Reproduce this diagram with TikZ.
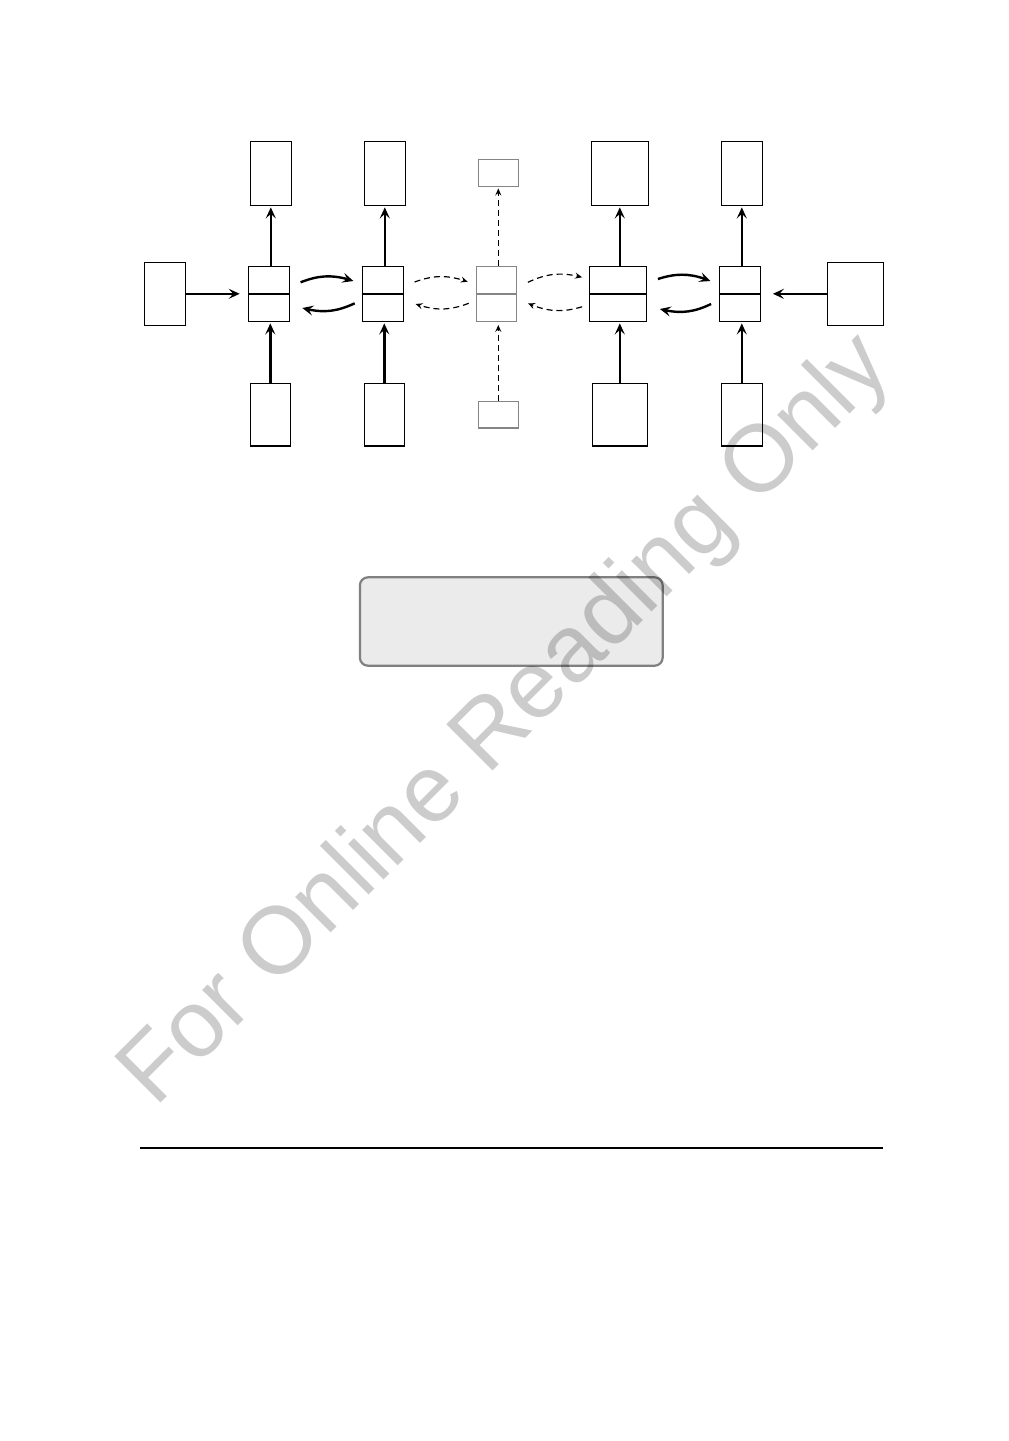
\documentclass[tikz,border=0pt]{standalone}
\usepackage{fontspec}
\newfontfamily\wmfont{Liberation Sans}
\usetikzlibrary{arrows.meta,bending}
\begin{document}
\begin{tikzpicture}[x=1pt,y=-1pt,
  box/.style={draw=black,line width=1.2pt,fill=white,inner sep=0pt,rectangle},
  gbox/.style={draw=black!48,line width=1.2pt,fill=white,inner sep=0pt,rectangle},
  divider/.style={line width=2pt,draw=black},
  gdivider/.style={line width=2pt,draw=black!48},
  bigarrow/.style={line width=2.4pt,-{Stealth[length=11pt,width=10pt,inset=4.5pt]}},
  dasharrow/.style={line width=1.2pt,dash pattern=on 6pt off 4pt,-{Stealth[length=7pt,width=6pt,inset=2.5pt]}},
  sumbox/.style={draw=black!50,line width=2.2pt,fill=black!8,rounded corners=8pt,inner sep=0pt,rectangle},
]
\useasboundingbox (0,0) rectangle (1009,1441);
\fill[white] (0,0) rectangle (1009,1441);

% input boxes
\node[box,minimum width=41pt,minimum height=63pt] (inL) at (164.8,293.8) {};
\node[box,minimum width=56pt,minimum height=63pt] (inR) at (855.3,293.8) {};

% cells
\node[box,minimum width=41pt,minimum height=55pt] (c1) at (268.8,293.8) {};
\node[box,minimum width=41pt,minimum height=55pt] (c2) at (382.8,293.8) {};
\node[gbox,minimum width=40pt,minimum height=55pt] (c3) at (496.3,293.8) {};
\node[box,minimum width=57pt,minimum height=55pt] (c4) at (617.8,293.8) {};
\node[box,minimum width=41pt,minimum height=55pt] (c5) at (739.8,293.8) {};
\draw[divider] (c1.west) -- (c1.east);
\draw[divider] (c2.west) -- (c2.east);
\draw[gdivider] (c3.west) -- (c3.east);
\draw[divider] (c4.west) -- (c4.east);
\draw[divider] (c5.west) -- (c5.east);

% top boxes
\node[box,minimum width=41pt,minimum height=64pt] (t1) at (270.8,173.3) {};
\node[box,minimum width=41pt,minimum height=64pt] (t2) at (384.8,173.3) {};
\node[gbox,minimum width=40pt,minimum height=26.6pt] (t3) at (498.3,173) {};
\node[box,minimum width=57pt,minimum height=64pt] (t4) at (619.8,173.3) {};
\node[box,minimum width=41pt,minimum height=64pt] (t5) at (741.8,173.3) {};

% bottom boxes
\node[box,minimum width=40pt,minimum height=62.7pt] (b1) at (270.3,414.7) {};
\node[box,minimum width=40pt,minimum height=62.7pt] (b2) at (384.3,414.7) {};
\node[gbox,minimum width=40pt,minimum height=26.7pt] (b3) at (498.3,414.7) {};
\node[box,minimum width=55pt,minimum height=62.7pt] (b4) at (619.8,414.7) {};
\node[box,minimum width=41pt,minimum height=62.7pt] (b5) at (741.8,414.7) {};

% vertical arrows
\foreach \i in {1,2,4,5}{
  \draw[bigarrow,shorten >=1.5pt] (c\i.north -| t\i.south) -- (t\i.south);
  \draw[bigarrow,shorten >=1.5pt] (b\i.north) -- (b\i.north |- c\i.south);
}
\draw[dasharrow,shorten >=1.5pt] (c3.north -| t3.south) -- (t3.south);
\draw[dasharrow,shorten >=3pt] (b3.north) -- (b3.north |- c3.south);

% input arrows
\draw[bigarrow,shorten >=8pt] (inL.east) -- (inL.east -| c1.west);
\draw[bigarrow,shorten >=12pt] (inR.west) -- (inR.west -| c5.east);

% curved arrows c1 <-> c2
\draw[bigarrow] ([shift={(10.7,-11.5)}]c1.east) to[bend left=20] ([shift={(-8.3,-12.8)}]c2.west);
\draw[bigarrow] ([shift={(-7,9.5)}]c2.west) to[bend left=20] ([shift={(12.4,14.2)}]c1.east);
% dashed c2 <-> c3
\draw[dasharrow] ([shift={(10.7,-11.8)}]c2.east) to[bend left=20] ([shift={(-8,-12)}]c3.west);
\draw[dasharrow] ([shift={(-7,9.5)}]c3.west) to[bend left=20] ([shift={(11.7,10.2)}]c2.east);
% dashed c3 <-> c4
\draw[dasharrow] ([shift={(11,-11.5)}]c3.east) to[bend left=20] ([shift={(-6.6,-16.5)}]c4.west);
\draw[dasharrow] ([shift={(-6.6,13)}]c4.west) to[bend left=20] ([shift={(11,9.5)}]c3.east);
% curved arrows c4 <-> c5
\draw[bigarrow] ([shift={(11,-14.8)}]c4.east) to[bend left=20] ([shift={(-8.3,-12.8)}]c5.west);
\draw[bigarrow] ([shift={(-7.6,10.2)}]c5.west) to[bend left=20] ([shift={(13,15.2)}]c4.east);

% grey rounded box
\node[sumbox,minimum width=302.7pt,minimum height=88.4pt] (sum) at (511.3,621.5) {};

% rule
\coordinate (ruleL) at (140,1147.7);
\coordinate (ruleR) at (882.7,1147.7);
\draw[line width=2pt] (ruleL) -- (ruleR);

% watermark
\begin{scope}[blend mode=multiply]
\node[rotate=45,anchor=base west,inner sep=0pt,text=black!20,font=\wmfont\fontsize{95pt}{95pt}\selectfont] (wm) at (155,1109) {For Online Reading Only};
\end{scope}
\end{tikzpicture}
\end{document}
